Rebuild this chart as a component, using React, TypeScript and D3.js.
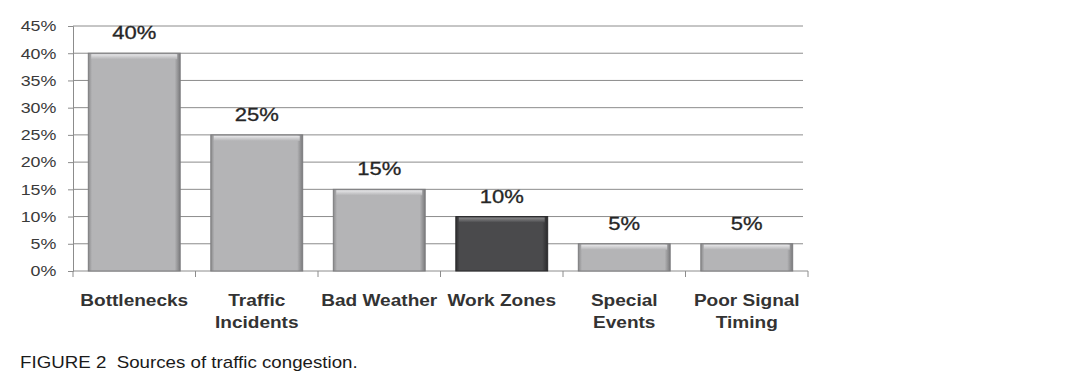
import { useEffect, useRef } from "react"
import * as d3 from "d3"

const categories = ["Bottlenecks", "Traffic\nIncidents", "Bad Weather", "Work Zones", "Special\nEvents", "Poor Signal\nTiming"]
const shares = [40, 25, 15, 10, 5, 5]
const highlighted = ["Work Zones"]
const yTicks = [0, 5, 10, 15, 20, 25, 30, 35, 40, 45]
const caption = "FIGURE 2  Sources of traffic congestion."

// the scanned figure is a little wider than tall, so text gets a horizontal stretch
const SX = 1.19
const FONT = "Liberation Sans, Arial, sans-serif"

export default function App() {
  const svgRef = useRef<SVGSVGElement>(null)

  useEffect(() => {
    if (!svgRef.current) return
    const svg = d3.select(svgRef.current)
    svg.selectAll("*").remove()

    const margin = { left: 73, right: 1065 - 808, top: 26, bottom: 392 - 271 }
    const height = 392 - margin.top - margin.bottom

    const defs = svg.append("defs")
    const mkGrad = (id: string, stops: [number, string][], vertical = false) => {
      const g = defs
        .append("linearGradient")
        .attr("id", id)
        .attr("x1", 0)
        .attr("y1", 0)
        .attr("x2", vertical ? 0 : 1)
        .attr("y2", vertical ? 1 : 0)
      stops.forEach(([o, c]) => g.append("stop").attr("offset", o).attr("stop-color", c))
    }
    mkGrad("light", [[0, "#8a8a8c"], [0.04, "#b4b4b6"], [0.94, "#b4b4b6"], [1, "#7a7a7c"]])
    mkGrad("dark", [[0, "#2e2e30"], [0.04, "#4a4a4c"], [0.94, "#4a4a4c"], [1, "#2a2a2c"]])
    mkGrad("lightTop", [[0, "#e6e6e8"], [1, "#b4b4b6"]], true)
    mkGrad("darkTop", [[0, "#8a8a8c"], [1, "#4a4a4c"]], true)

    const g = svg.append("g").attr("transform", `translate(${margin.left},${margin.top})`)
    const width = 808 - margin.left

    const x = d3.scaleBand().domain(categories).range([0, width]).paddingInner(0.25).paddingOuter(0.125)
    const y = d3.scaleLinear().domain([0, 45]).range([height, 0])

    // grid
    g.append("g")
      .selectAll("line")
      .data(yTicks.filter((t) => t > 0))
      .join("line")
      .attr("x1", 0)
      .attr("x2", width - 5)
      .attr("y1", (d) => y(d))
      .attr("y2", (d) => y(d))
      .attr("stroke", "#8c8c8c")
      .attr("stroke-width", 1)

    // y axis
    const yAxis = g
      .append("g")
      .call(d3.axisLeft(y).tickValues(yTicks).tickSize(5).tickPadding(9).tickFormat((d) => `${d}%`))
    yAxis.select(".domain").attr("stroke", "#8c8c8c")
    yAxis.selectAll(".tick line").attr("stroke", "#8c8c8c")
    yAxis
      .selectAll("text")
      .attr("fill", "#3a3a3a")
      .attr("font-family", FONT)
      .attr("font-size", 15)
      .attr("transform", `scale(${SX},1)`)

    // x axis
    const step = x.step()
    const xAxis = g.append("g").attr("transform", `translate(0,${height})`)
    xAxis
      .append("line")
      .attr("x1", 0)
      .attr("x2", width)
      .attr("stroke", "#8c8c8c")
    xAxis
      .selectAll(".xt")
      .data(d3.range(categories.length + 1))
      .join("line")
      .attr("class", "xt")
      .attr("x1", (i) => i * step)
      .attr("x2", (i) => i * step)
      .attr("y1", 0)
      .attr("y2", 6)
      .attr("stroke", "#8c8c8c")

    // bars
    const bars = g
      .selectAll(".bar")
      .data(categories)
      .join("g")
      .attr("class", "bar")
    bars
      .append("rect")
      .attr("x", (d) => x(d)!)
      .attr("y", (d, i) => y(shares[i]))
      .attr("width", x.bandwidth())
      .attr("height", (d, i) => height - y(shares[i]))
      .attr("fill", (d) => (highlighted.includes(d) ? "url(#dark)" : "url(#light)"))
      .attr("stroke", (d) => (highlighted.includes(d) ? "#2a2a2c" : "#7c7c7e"))
      .attr("stroke-width", 1)
    bars
      .append("rect")
      .attr("x", (d) => x(d)! + 3)
      .attr("y", (d, i) => y(shares[i]) + 1)
      .attr("width", x.bandwidth() - 6)
      .attr("height", 5)
      .attr("fill", (d) => (highlighted.includes(d) ? "url(#darkTop)" : "url(#lightTop)"))

    // value labels
    g.selectAll(".val")
      .data(categories)
      .join("text")
      .attr("class", "val")
      .attr("transform", (d, i) => `translate(${x(d)! + x.bandwidth() / 2},${y(shares[i]) - 14}) scale(${SX},1)`)
      .attr("text-anchor", "middle")
      .attr("fill", "#262626")
      .attr("font-family", FONT)
      .attr("font-size", 18.5)
      .attr("stroke", "#262626")
      .attr("stroke-width", 0.3)
      .text((d, i) => `${shares[i]}%`)

    // category labels
    const labels = g
      .selectAll(".cat")
      .data(categories)
      .join("text")
      .attr("class", "cat")
      .attr("transform", (d) => `translate(${x(d)! + x.bandwidth() / 2},${height + 35}) scale(${SX},1)`)
      .attr("text-anchor", "middle")
      .attr("fill", "#333")
      .attr("font-family", FONT)
      .attr("font-weight", "bold")
      .attr("font-size", 16)
    labels
      .selectAll("tspan")
      .data((d) => d.split("\n"))
      .join("tspan")
      .attr("x", 0)
      .attr("dy", (d, i) => (i === 0 ? 0 : 22))
      .text((d) => d)

    svg
      .append("text")
      .attr("transform", `translate(20,368) scale(1.17,1)`)
      .attr("fill", "#1a1a1a")
      .attr("font-family", FONT)
      .attr("font-size", 16)
      .style("white-space", "pre")
      .text(caption)
  }, [])

  return (
    <div style={{ position: "absolute", left: 0, top: 0 }}>
      <svg ref={svgRef} width={1065} height={392} style={{ display: "block", background: "#fff" }} />
    </div>
  )
}
